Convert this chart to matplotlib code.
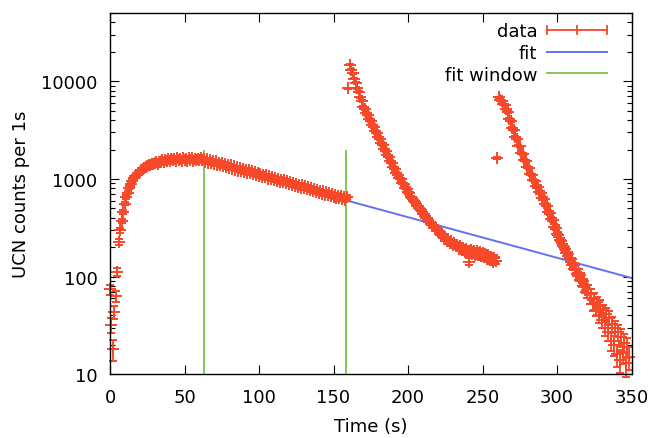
import numpy as np
import matplotlib
matplotlib.use("Agg")
import matplotlib.pyplot as plt
from matplotlib.legend_handler import HandlerBase
from matplotlib.lines import Line2D

# UCN counts per 1 s bin
fill_start = 0
fill_counts = [
    74, 32, 18, 43, 63, 112, 228, 300, 372, 455,
    560, 655, 725, 812, 880, 948, 1015, 1068, 1102, 1150,
    1185, 1236, 1262, 1301, 1318, 1352, 1375, 1389, 1421, 1408,
    1452, 1490, 1438, 1502, 1475, 1548, 1500, 1575, 1512, 1598,
    1530, 1610, 1545, 1592, 1520, 1630, 1548, 1605, 1536, 1640,
    1552, 1600, 1528, 1622, 1560, 1650, 1540, 1612, 1558, 1600,
    1560, 1638, 1570, 1610, 1500, 1585, 1470, 1560, 1445, 1530,
    1420, 1515, 1395, 1470, 1385, 1460, 1350, 1430, 1330, 1400,
    1300, 1385, 1265, 1350, 1240, 1330, 1215, 1290, 1195, 1270,
    1180, 1245, 1160, 1225, 1145, 1200, 1120, 1180, 1100, 1150,
    1070, 1135, 1050, 1110, 1035, 1090, 1010, 1070, 995, 1045,
    975, 1030, 950, 1005, 935, 985, 920, 965, 900, 950,
    885, 930, 865, 910, 850, 895, 835, 875, 815, 860,
    800, 840, 785, 825, 765, 805, 752, 790, 738, 775,
    720, 760, 705, 745, 692, 730, 680, 715, 668, 700,
    655, 690, 645, 675, 632, 665, 622, 652, 615, 660,
    8500,
]
empty1_start = 161
empty1_counts = [
    14800, 13100, 12050, 10600, 9700, 8500, 7800, 6850, 6300, 5500,
    5200, 4750, 4520, 4120, 3920, 3570, 3390, 3100, 2950, 2680,
    2540, 2320, 2210, 2010, 1920, 1750, 1670, 1520, 1450, 1310,
    1255, 1140, 1110, 1020, 995, 910, 885, 815, 790, 730,
    712, 650, 632, 588, 578, 532, 525, 488, 478, 442,
    438, 402, 398, 365, 362, 336, 338, 312, 314, 290,
    293, 268, 272, 250, 256, 232, 240, 222, 230, 212,
    220, 204, 212, 196, 205, 186, 196, 180, 192, 175,
    142, 186, 170, 184, 168, 182, 165, 178, 162, 175,
    158, 170, 152, 165, 148, 160, 142, 155, 146,
    1650,
]
empty2_start = 261
empty2_counts = [
    6900, 6450, 6300, 5800, 5650, 5150, 4850, 4150, 3900, 3350,
    3150, 2700, 2550, 2200, 2150, 1860, 1820, 1560, 1530, 1320,
    1290, 1120, 1095, 975, 950, 840, 830, 735, 720, 640,
    630, 548, 530, 462, 445, 390, 378, 325, 318, 272,
    268, 236, 232, 204, 203, 176, 178, 152, 156, 132,
    138, 118, 120, 102, 108, 90, 95, 78, 82, 68,
    74, 60, 66, 52, 60, 46, 55, 40, 50, 36,
    45, 30, 41, 27, 38, 22, 33, 20, 30, 16,
    27, 14, 24, 17, 21, 13, 19, 15,
]

# fit: slow storage exponential plus a short fast component
fit_window = [63.3, 158.2]
fit_slow_amp = 1500.0
fit_slow_tau = 104.6
fit_fast_amp = 220.0
fit_fast_tau = 1.0
window_top = 2000

RED = "#f8482a"
BLUE = "#6272ee"
GREEN = "#80c858"
FS = 13


class HandlerXErr(HandlerBase):
    """gnuplot style errorbar sample: horizontal bar with three ticks"""

    def create_artists(self, legend, orig_handle, xdescent, ydescent,
                       width, height, fontsize, trans):
        y = height / 2 - ydescent
        x0, x1 = -xdescent, width - xdescent
        h = height * 0.3
        arts = [Line2D([x0, x1], [y, y])]
        for x in (x0, (x0 + x1) / 2, x1):
            arts.append(Line2D([x, x], [y - h, y + h]))
        for a in arts:
            a.set_color(orig_handle.get_color())
            a.set_linewidth(1.3)
            a.set_transform(trans)
        return arts


counts = np.array(fill_counts + empty1_counts + empty2_counts, dtype=float)
t = np.concatenate([
    np.arange(len(fill_counts)) + fill_start,
    np.arange(len(empty1_counts)) + empty1_start,
    np.arange(len(empty2_counts)) + empty2_start,
])

plt.rcParams["font.family"] = "DejaVu Sans"
fig = plt.figure(figsize=(6.54, 4.39), dpi=100)
ax = fig.add_axes([0.1682, 0.1451, 0.7974, 0.823])

eb = ax.errorbar(t, counts, yerr=np.sqrt(counts), fmt="+", color=RED,
                 ms=8, mew=1.4, elinewidth=1.3, capsize=3, capthick=1.3)
for art in eb.lines[0:1] + tuple(eb.lines[1]) + tuple(eb.lines[2]):
    art.set_clip_on(False)

tf = np.linspace(fit_window[0], 350, 600)
fit = (fit_slow_amp * np.exp(-(tf - fit_window[0]) / fit_slow_tau)
       + fit_fast_amp * np.exp(-(tf - fit_window[0]) / fit_fast_tau))
ax.plot(tf, fit, color=BLUE, lw=1.4)
ax.vlines(fit_window, 10, window_top, color=GREEN, lw=1.4)

ax.set_yscale("log")
ax.set_xlim(0, 350)
ax.set_ylim(10, 50000)
ax.set_xticks(np.arange(0, 351, 50))
ax.set_yticks([10, 100, 1000, 10000])
ax.set_yticklabels(["10", "100", "1000", "10000"])
ax.tick_params(which="both", direction="in", top=True, right=True,
               labelsize=FS, width=0.8)
ax.tick_params(which="major", length=6.3)
ax.tick_params(which="minor", length=3.5)
ax.tick_params(axis="x", pad=10)
ax.tick_params(axis="y", pad=9)
for s in ax.spines.values():
    s.set_linewidth(1.0)

ax.set_xlabel("Time (s)", fontsize=FS, labelpad=8)
ax.set_ylabel("UCN counts per 1s", fontsize=FS, labelpad=8)

proxy = Line2D([], [], color=RED)
fit_h = Line2D([], [], color=BLUE, lw=1.4)
win_h = Line2D([], [], color=GREEN, lw=1.4)
ax.legend([proxy, fit_h, win_h], ["data", "fit", "fit window"],
          handler_map={proxy: HandlerXErr()}, loc="upper right",
          bbox_to_anchor=(0.984, 1.019), markerfirst=False, frameon=False,
          fontsize=FS, handlelength=3.3, labelspacing=0.2, handletextpad=0.55)

fig.savefig("out.png", dpi=100)
